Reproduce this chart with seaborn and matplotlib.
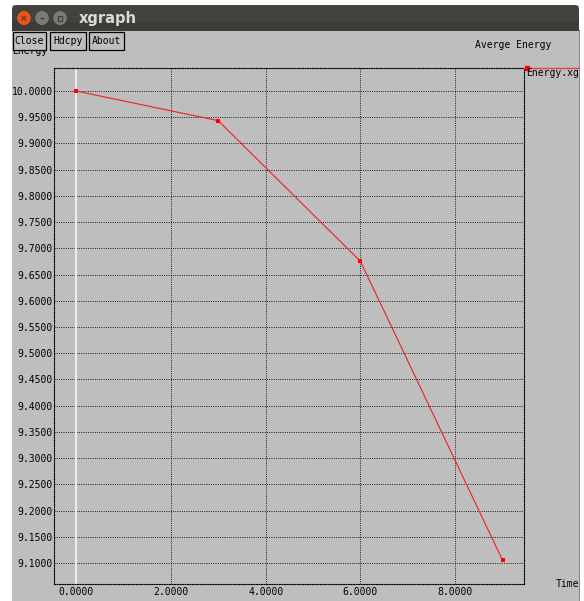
import matplotlib
matplotlib.use("Agg")
import matplotlib.pyplot as plt
from matplotlib.patches import Rectangle, Circle, FancyBboxPatch
from matplotlib.lines import Line2D
import seaborn as sns
import pandas as pd

# Data
time = [0.0, 3.0, 6.0, 9.0]
energy = [10.0, 9.9434, 9.6752, 9.1047]
x_ticks = [0.0, 2.0, 4.0, 6.0, 8.0]
y_ticks = [9.10, 9.15, 9.20, 9.25, 9.30, 9.35, 9.40, 9.45, 9.50, 9.55,
           9.60, 9.65, 9.70, 9.75, 9.80, 9.85, 9.90, 9.95, 10.00]
title_text = "Averge Energy"
series_name = "Energy.xg"
x_name = "Time"
y_name = "Energy"
window_name = "xgraph"
buttons = ["Close", "Hdcpy", "About"]

W, H = 584, 601
GRAY = "#bebebe"
MONO = "DejaVu Sans Mono"
FS = 7

sns.set_style("white")
plt.rcParams["font.family"] = ["DejaVu Sans Mono", "DejaVu Sans"]

fig = plt.figure(figsize=(W / 100, H / 100), dpi=100)
fig.patch.set_facecolor("white")


def fx(x):
    return x / W


def fy(y):
    return 1 - y / H


def box(x0, y0, x1, y1, **kw):
    r = Rectangle((fx(x0), fy(y1)), fx(x1) - fx(x0), fy(y0) - fy(y1),
                  transform=fig.transFigure, **kw)
    fig.patches.append(r)
    return r


# window body and title bar
box(12, 5, 579, 601, facecolor=GRAY, edgecolor="none", zorder=0)
box(579, 30, 580, 601, facecolor="#8a8a8a", edgecolor="none", zorder=0)
tb = FancyBboxPatch((fx(12), fy(31)), fx(579) - fx(12), fy(5) - fy(31),
                    boxstyle="round,pad=0,rounding_size=0.008",
                    transform=fig.transFigure, facecolor="#44423d",
                    edgecolor="none", zorder=0.5)
fig.patches.append(tb)
box(12, 22, 579, 31, facecolor="#3d3b37", edgecolor="none", zorder=0.6)

for cx, col in [(24, "#e5561f"), (42, "#7b7974"), (60, "#7b7974")]:
    c = Circle((fx(cx), fy(18)), 7.2 / W, transform=fig.transFigure,
               facecolor=col, edgecolor="#333333", linewidth=0.4, zorder=1)
    fig.patches.append(c)
fig.text(fx(24), fy(18.5), "×", color="#5a2a10", fontsize=6.5,
         ha="center", va="center", family="DejaVu Sans", fontweight="bold", zorder=2)
fig.text(fx(42), fy(18.5), "–", color="#3e3d3a", fontsize=7,
         ha="center", va="center", family="DejaVu Sans", fontweight="bold", zorder=2)
box(57.5, 15.5, 62.5, 20.5, facecolor="none", edgecolor="#3e3d3a", linewidth=0.8, zorder=2)
fig.text(fx(79), fy(18.5), window_name, color="#dcdad5", fontsize=10.5,
         ha="left", va="center", family="DejaVu Sans", fontweight="bold", zorder=2)

# y axis name sits partly under the buttons
fig.text(fx(12), fy(51), y_name, fontsize=FS, family=MONO, ha="left",
         va="center", color="black", zorder=1)
for (x0, x1), label in zip([(13, 46), (50, 86), (89, 124)], buttons):
    box(x0, 32, x1, 49.5, facecolor=GRAY, edgecolor="black", linewidth=0.9, zorder=3)
    fig.text(fx((x0 + x1) / 2), fy(41), label, fontsize=FS, family=MONO,
             ha="center", va="center", color="black", zorder=4)

fig.text(fx(551), fy(45), title_text, fontsize=FS, family=MONO,
         ha="right", va="center", color="black")
fig.text(fx(556), fy(584), x_name, fontsize=FS, family=MONO,
         ha="left", va="center", color="black")

# legend entry
fig.lines.append(Line2D([fx(526), fx(578.5)], [fy(67.7), fy(67.7)],
                        transform=fig.transFigure, color="#ee4040", lw=1.0))
fig.lines.append(Line2D([fx(526.5)], [fy(67.7)], transform=fig.transFigure,
                        color="red", marker="s", markersize=2.2, lw=0))
fig.text(fx(526.5), fy(73), series_name, fontsize=FS, family=MONO,
         ha="left", va="center", color="black")

# plot area
ax = fig.add_axes([fx(54), fy(584), fx(524) - fx(54), fy(68) - fy(584)])
ax.set_zorder(5)
ax.set_facecolor(GRAY)
df = pd.DataFrame({"t": time, "e": energy})
sns.lineplot(data=df, x="t", y="e", ax=ax, color="#f02020", linewidth=0.8,
             marker="s", markersize=2.6, markeredgewidth=0,
             markerfacecolor="red", zorder=4)
ax.axvline(0, color="#ececec", lw=1.5, zorder=2)

ax.set_xlim(-0.464, 9.45)
ax.set_ylim(10 - (584 - 91) / 524.4, 10 + (91 - 68) / 524.4)
ax.set_xticks(x_ticks)
ax.set_yticks(y_ticks)
ax.set_xticklabels([f"{v:.4f}" for v in x_ticks])
ax.set_yticklabels([f"{v:.4f}" for v in y_ticks])
ax.tick_params(axis="both", length=0, labelsize=FS, colors="black")
ax.tick_params(axis="y", pad=1)
ax.tick_params(axis="x", pad=2.5)
for lab in ax.get_xticklabels() + ax.get_yticklabels():
    lab.set_family(MONO)
ax.grid(True, color="#1a1a1a", linestyle=(0, (1, 1.3)), linewidth=0.7, zorder=1)
ax.set_axisbelow(True)
for s in ax.spines.values():
    s.set_linestyle((0, (1, 1.3)))
    s.set_linewidth(0.8)
    s.set_color("black")
ax.set_xlabel("")
ax.set_ylabel("")

fig.savefig("out.png", dpi=100)
